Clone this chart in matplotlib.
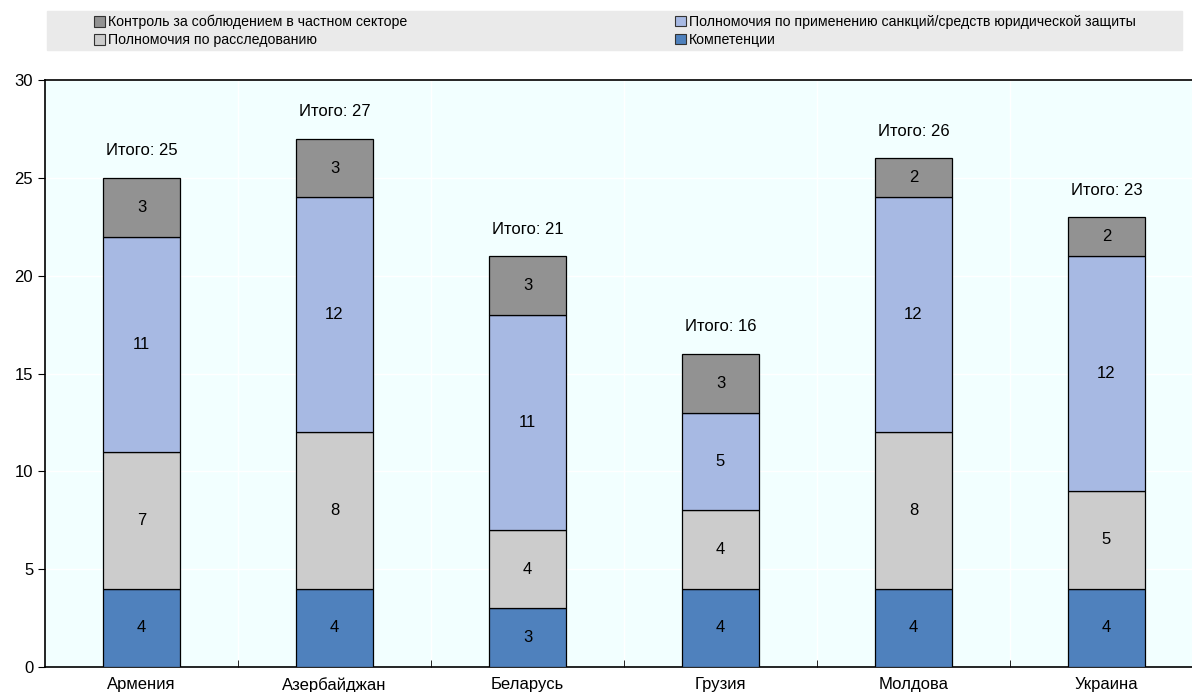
import matplotlib
matplotlib.use("Agg")
import matplotlib.pyplot as plt
from matplotlib.patches import Patch, Rectangle
import numpy as np

plt.rcParams['font.family'] = ['Liberation Sans', 'DejaVu Sans']

countries = ["Армения", "Азербайджан", "Беларусь", "Грузия", "Молдова", "Украина"]
competence = [4, 4, 3, 4, 4, 4]
investigation = [7, 8, 4, 4, 8, 5]
sanctions = [11, 12, 11, 5, 12, 12]
private_control = [3, 3, 3, 3, 2, 2]

series_names = ["Компетенции", "Полномочия по расследованию",
                "Полномочия по применению санкций/средств юридической защиты",
                "Контроль за соблюдением в частном секторе"]
series_colors = ["#4F81BD", "#CCCCCC", "#A7B9E3", "#929292"]

fig = plt.figure(figsize=(11.92, 6.92), dpi=100)
ax = fig.add_axes([45 / 1192, 25 / 692, 1158 / 1192, 587 / 692])
ax.set_facecolor("#F2FFFF")

x = np.arange(len(countries))
bottom = np.zeros(len(countries))
for vals, color in zip([competence, investigation, sanctions, private_control], series_colors):
    ax.bar(x, vals, 0.4, bottom=bottom, color=color, edgecolor="black", linewidth=0.9, zorder=3)
    for xi, b, v in zip(x, bottom, vals):
        ax.text(xi, b + v / 2, str(v), ha="center", va="center", fontsize=12, zorder=4)
    bottom = bottom + np.array(vals)

for xi, total in zip(x, bottom):
    ax.annotate(f"Итого: {int(total)}", (xi, total), xytext=(0, 14), textcoords="offset points",
                ha="center", va="bottom", fontsize=12)

ax.set_xlim(-0.5, len(countries) - 0.5)
ax.set_ylim(0, 30)
ax.set_yticks(range(0, 31, 5))
ax.set_xticks(x)
ax.set_xticklabels(countries, fontsize=12)
ax.tick_params(axis="x", length=0, pad=7)
ax.tick_params(axis="y", labelsize=12, length=5, direction="out")
ax.set_xticks(np.arange(0.5, len(countries) - 0.5, 1), minor=True)
ax.tick_params(axis="x", which="minor", direction="in", length=5)
ax.grid(True, which="minor", axis="x", color="white", linewidth=1, zorder=0)
ax.grid(True, which="major", axis="y", color="white", linewidth=1, zorder=0)
ax.set_axisbelow(True)
for side in ["top", "left", "bottom"]:
    ax.spines[side].set_linewidth(1.2)
ax.spines["right"].set_visible(False)

# legend band
fig.patches.append(Rectangle((47 / 1192, 1 - 50 / 692), 1135 / 1192, 39 / 692,
                             transform=fig.transFigure, color="#EAEAEA", zorder=0))
handles = [Patch(facecolor=c, edgecolor="#333333", linewidth=0.8) for c in series_colors]
leg_kw = dict(frameon=False, fontsize=10.2, handlelength=0.8, handleheight=0.8,
              handletextpad=0.2, labelspacing=0.28, borderpad=0, borderaxespad=0, loc="upper left")
fig.legend([handles[3], handles[1]], [series_names[3], series_names[1]],
           bbox_to_anchor=(94 / 1192, 1 - 15 / 692), **leg_kw)
fig.legend([handles[2], handles[0]], [series_names[2], series_names[0]],
           bbox_to_anchor=(675 / 1192, 1 - 15 / 692), **leg_kw)

fig.savefig("out.png", dpi=100)
